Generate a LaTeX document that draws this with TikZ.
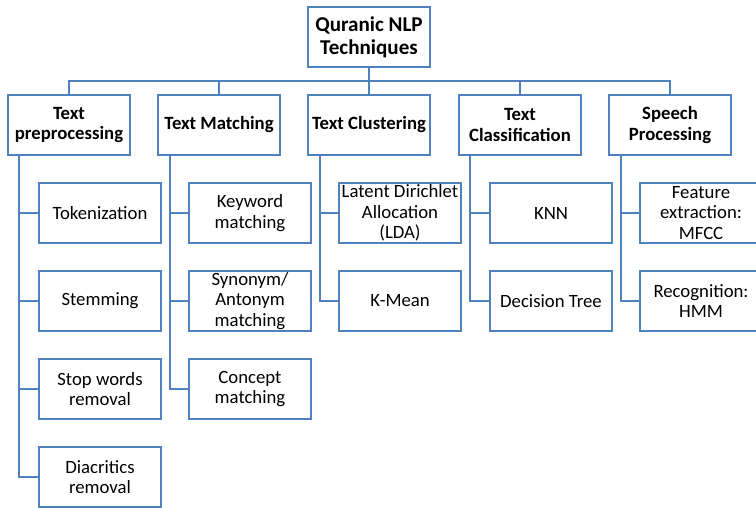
\documentclass[tikz,border=0pt]{standalone}
\usepackage{fontspec}
\setmainfont{Carlito}
\usetikzlibrary{positioning}

\definecolor{boxblue}{RGB}{79,129,189}

\begin{document}
\begin{tikzpicture}[x=0.03cm,y=-0.03cm,
    box/.style={draw=boxblue,line width=1.6pt,fill=white,align=center,
      minimum width=3.66cm,minimum height=1.8cm,inner sep=1pt,
      font=\fontsize{16}{17.5}\selectfont},
    head/.style={box,font=\fontsize{16}{17.5}\selectfont\bfseries},
    link/.style={draw=boxblue,line width=1.6pt}]
      \useasboundingbox (0,0) rectangle (756,508);
      \clip (0,0) rectangle (756,508);
      % root
      \node[head,font=\fontsize{18}{19.5}\selectfont\bfseries] (root) at (369,37) {Quranic NLP\\Techniques};
      % first level
      \node[head] (prep) at (69,125) {Text\\preprocessing};
      \node[head] (match) at (219,125) {Text Matching};
      \node[head] (clust) at (369,125) {Text Clustering};
      \node[head] (class) at (520,125) {Text\\Classification};
      \node[head] (speech) at (670,125) {Speech\\Processing};
      % preprocessing
      \node[box] (tok) at (100,213) {Tokenization};
      \node[box] (stem) at (100,301) {Stemming};
      \node[box] (stop) at (100,389) {Stop words\\removal};
      \node[box] (diac) at (100,477) {Diacritics\\removal};
      % matching
      \node[box] (keyw) at (250,213) {Keyword\\matching};
      \node[box] (syn) at (250,301) {Synonym/\\Antonym\\matching};
      \node[box] (conc) at (250,389) {Concept\\matching};
      % clustering
      \node[box] (lda) at (400,213) {Latent Dirichlet\\Allocation\\(LDA)};
      \node[box] (kmean) at (400,301) {K-Mean};
      % classification
      \node[box] (knn) at (551,213) {KNN};
      \node[box] (dtree) at (551,301) {Decision Tree};
      % speech
      \node[box] (mfcc) at (701,213) {Feature\\extraction:\\MFCC};
      \node[box] (hmm) at (701,301) {Recognition:\\HMM};
      % bus from the root
      \foreach \n in {prep,match,clust,class,speech}
        \draw[link] (root.south) -- ++(0,13) -| (\n.north);
      % child lines
      \foreach \n in {tok,stem,stop,diac}
        \draw[link] ([xshift=-1.5cm]prep.south) |- (\n.west);
      \foreach \n in {keyw,syn,conc}
        \draw[link] ([xshift=-1.47cm]match.south) |- (\n.west);
      \foreach \n in {lda,kmean}
        \draw[link] ([xshift=-1.47cm]clust.south) |- (\n.west);
      \foreach \n in {knn,dtree}
        \draw[link] ([xshift=-1.5cm]class.south) |- (\n.west);
      \foreach \n in {mfcc,hmm}
        \draw[link] ([xshift=-1.47cm]speech.south) |- (\n.west);
\end{tikzpicture}
\end{document}
